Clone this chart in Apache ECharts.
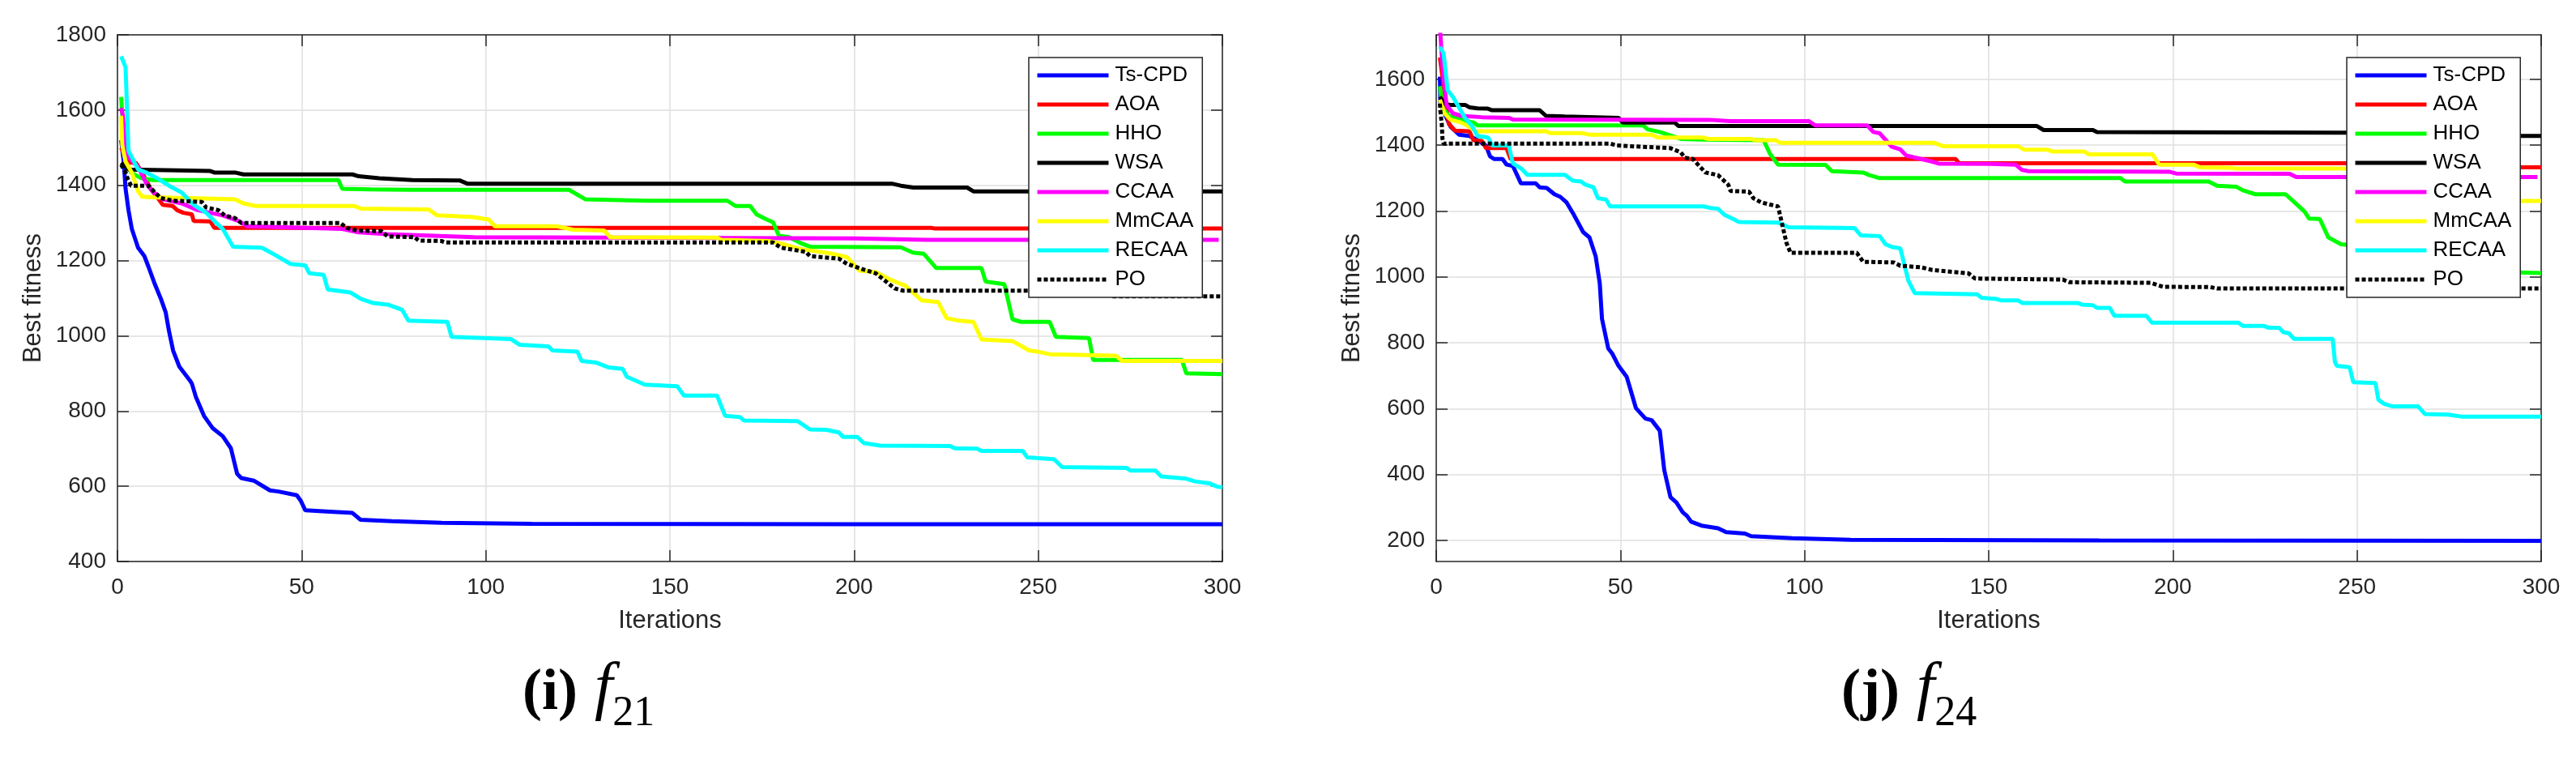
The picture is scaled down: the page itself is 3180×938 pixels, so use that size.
<!DOCTYPE html>
<html><head><meta charset="utf-8">
<script src="https://cdn.jsdelivr.net/npm/echarts@6/dist/echarts.min.js"></script>
<style>html,body{margin:0;padding:0;background:#fff}#c{width:3180px;height:938px}</style>
</head><body><div id="c"></div>
<script>
// ---------- data ----------
const seriesNames = ['Ts-CPD','AOA','HHO','WSA','CCAA','MmCAA','RECAA','PO'];
const seriesColors = ['#0000ff','#ff0000','#00ff00','#000000','#ff00ff','#ffff00','#00ffff','#000000'];
const xTicks = [0,50,100,150,200,250,300];
const yTicks21 = [400,600,800,1000,1200,1400,1600,1800];
const yTicks24 = [200,400,600,800,1000,1200,1400,1600];

// f21 : [iteration, best fitness]
const f21_TsCPD = [[1,1520],[1.7,1463],[2.2,1391],[3,1334],[3.9,1284],[5.6,1234],[7.3,1212],[8.4,1184],[10,1141],[11.8,1098],[13.1,1062],[14,1012],[15.1,961],[16.8,918],[19.6,882],[20.2,873],[21.3,837],[23.5,787],[25.8,755],[28.6,733],[30.8,701],[32.5,633],[33.6,622],[37,615],[41.4,589],[43.7,586],[48.7,576],[49.8,561],[51,536],[56.6,533],[63.8,529],[66,511],[74.5,507],[88,503],[112.5,500],[200,499],[300,499]];
const f21_AOA = [[1,1500],[3,1460],[5,1460],[6.7,1434],[9,1391],[11.2,1363],[12.3,1348],[15,1345],[16.2,1334],[17.9,1327],[20.2,1323],[20.7,1305],[25.2,1304],[26.3,1287],[221,1287],[222,1285],[300,1285]];
const f21_HHO = [[1,1635],[1.5,1556],[2.2,1463],[3.7,1434],[6.2,1420],[9.5,1414],[60,1414],[61,1391],[68.9,1389],[79,1388],[122.6,1388],[127,1363],[143.7,1359],[165.6,1359],[167.8,1345],[171.8,1345],[173.5,1323],[176.3,1309],[178,1302],[179.6,1266],[182.4,1262],[185.8,1245],[188,1237],[212.7,1235],[216,1221],[218.9,1218],[222.3,1180],[234.6,1180],[235.7,1144],[240.8,1137],[243,1044],[245.3,1037],[253.1,1037],[254.8,997],[263.8,994],[264.9,936],[289,936],[290.2,900],[300,898]];
const f21_WSA = [[1,1460],[3,1442],[16.2,1440],[25.2,1438],[26.3,1434],[31.9,1434],[34.2,1429],[63.8,1429],[65.5,1424],[71.1,1419],[80.1,1414],[92.9,1413],[95.1,1404],[210.5,1404],[212.7,1399],[216.1,1394],[230.7,1394],[232.4,1384],[300,1384]];
const f21_CCAA = [[1,1606],[1.5,1585],[2.2,1492],[3.4,1470],[5.6,1449],[7.8,1406],[9.5,1384],[12.3,1363],[17.4,1352],[21.8,1334],[28.6,1320],[33,1305],[35.3,1291],[61,1284],[65.5,1275],[73.3,1270],[96.9,1262],[133.8,1261],[200.4,1259],[219.5,1255],[299,1255]];
const f21_MmCAA = [[1,1585],[1.3,1506],[2.2,1463],[3.9,1434],[5.6,1384],[6.7,1370],[9.5,1368],[19.6,1366],[31.9,1363],[34.2,1352],[37.5,1345],[64.4,1345],[66.1,1338],[84.5,1336],[86.8,1320],[96.3,1316],[100.8,1309],[102.5,1291],[119.3,1291],[123.7,1282],[132.1,1280],[133.8,1262],[162.8,1261],[163.9,1255],[176.8,1252],[180.2,1245],[185.8,1230],[193.7,1219],[198.1,1209],[201.5,1173],[206,1169],[209.4,1151],[213.9,1133],[218.4,1094],[222.8,1090],[225.1,1047],[228.5,1040],[232.4,1037],[234.6,990],[243,986],[247.5,961],[249.8,958],[253.1,951],[271.1,947],[272.8,933],[300,933]];
const f21_RECAA = [[1,1743],[2.2,1714],[3,1492],[4.5,1463],[5.6,1442],[7.8,1434],[10.6,1420],[14,1399],[17.4,1381],[20.7,1348],[24.1,1327],[26.3,1305],[28.6,1284],[31.4,1237],[39.2,1234],[42.6,1216],[47,1191],[51,1187],[52.1,1166],[56,1162],[57.1,1123],[63.3,1115],[66.1,1098],[69.5,1087],[73.4,1083],[77.3,1069],[79,1040],[89.6,1037],[90.7,997],[106.9,991],[109.2,976],[117,972],[118.1,961],[124.9,958],[126,933],[129.9,929],[133.3,916],[137.2,912],[138.3,891],[143.2,870],[152,866],[153.8,841],[162.8,841],[165,787],[169,784],[170.1,775],[184.7,773],[188,751],[192.5,750],[195.9,743],[197,731],[200.9,731],[202.6,715],[207.1,708],[226.1,707],[227.3,701],[233.4,700],[234.6,694],[245.8,694],[247,677],[254.3,672],[256.5,651],[273.9,649],[275,642],[281.8,642],[283.4,626],[290.2,620],[292.5,613],[296.4,608],[298.6,599],[300,597]];
const f21_PO = [[1,1455],[2.2,1434],[2.8,1417],[3.7,1399],[8.4,1399],[10.6,1377],[11.8,1366],[15.1,1359],[22.9,1356],[24.1,1341],[27.4,1334],[29.1,1320],[31.9,1313],[33.6,1300],[60.5,1300],[62.2,1287],[65,1280],[71.7,1278],[73.4,1264],[80.7,1262],[81.8,1253],[87.9,1252],[89,1248],[178,1248],[180.2,1234],[186.9,1223],[188,1212],[195.9,1205],[198.1,1191],[202.6,1176],[205.9,1166],[208.2,1148],[211,1126],[213.3,1120],[268,1120],[270,1105],[300,1105]];

// f24 : [iteration, best fitness]
const f24_TsCPD = [[1,1608],[1.1,1530],[2.2,1497],[3.9,1456],[6.2,1432],[9,1428],[11.2,1415],[13.5,1399],[14.6,1366],[15.7,1358],[18,1358],[19.1,1341],[20.8,1337],[23,1284],[27,1284],[28.1,1272],[30,1270],[32.1,1251],[33.7,1243],[35.4,1226],[37.1,1194],[39.9,1136],[41.6,1120],[43.3,1062],[44.4,980],[45,873],[46.7,783],[47.8,767],[49.5,730],[51.7,697],[52.9,652],[54.2,602],[56.8,570],[58.5,565],[60.7,533],[61.9,414],[63.6,331],[65.2,315],[66.9,286],[68.1,274],[69.2,257],[72,245],[76.5,237],[78.7,225],[83.8,221],[85.5,213],[96.7,207],[112.5,202],[180,200],[300,199]];
const f24_AOA = [[1,1666],[2.2,1563],[3.4,1465],[5.1,1444],[9,1442],[10.1,1415],[12.4,1413],[13.5,1391],[19.1,1391],[20.2,1358],[141,1358],[142,1345],[265,1345],[266,1333],[300,1333]];
const f24_HHO = [[1,1579],[1.7,1514],[3.4,1489],[5,1485],[7.9,1474],[10.1,1469],[11.2,1460],[56.2,1460],[57.4,1448],[60.7,1440],[66.4,1419],[72,1417],[88.9,1415],[90.6,1374],[92.8,1341],[105.7,1340],[107.4,1321],[115.9,1317],[117.6,1309],[120.4,1300],[185.8,1300],[187,1290],[209.7,1290],[212,1277],[217.2,1274],[219,1263],[222.4,1251],[230.6,1251],[232.9,1228],[235.8,1198],[237,1177],[239.9,1176],[242.2,1120],[245.7,1099],[255,1090],[262,1060],[275,1040],[285,1025],[290,1015],[300,1012]];
const f24_WSA = [[1,1547],[2.2,1526],[3.9,1522],[7.9,1522],[9,1515],[11.2,1512],[14,1511],[15.2,1506],[28.1,1506],[29.8,1489],[34.9,1487],[49.5,1483],[50.6,1469],[64.7,1469],[65.8,1458],[163.1,1458],[164.9,1446],[178.3,1446],[179.4,1440],[244.5,1438],[260,1438],[262,1428],[300,1428]];
const f24_CCAA = [[1,1760],[1.7,1637],[2.8,1522],[4.5,1497],[6.7,1489],[12.4,1485],[19.7,1483],[20.8,1478],[74.2,1477],[79.8,1473],[101.2,1473],[102.9,1460],[117,1460],[118.7,1440],[120.4,1436],[123.7,1395],[126,1387],[127.7,1368],[129.4,1364],[131.7,1358],[134.7,1350],[136.4,1344],[150.3,1343],[157.3,1341],[159,1325],[160.8,1321],[199.2,1319],[200.9,1314],[231.7,1313],[233.5,1303],[299,1303]];
const f24_MmCAA = [[1,1538],[2.2,1497],[3.9,1477],[6.7,1469],[9,1456],[10.7,1442],[29.8,1442],[30.9,1437],[39.4,1437],[41.6,1432],[58.5,1432],[60.2,1423],[72.6,1423],[73.7,1419],[85.5,1419],[86.6,1415],[92.2,1415],[93.4,1407],[135.2,1407],[137.6,1397],[157.9,1397],[159.7,1386],[166,1386],[167.2,1381],[176,1381],[177.1,1372],[194.5,1372],[196.3,1341],[205.6,1341],[207.3,1333],[216,1331],[217.2,1329],[262,1329],[264,1300],[276,1295],[278,1250],[285,1240],[287,1231],[300,1231]];
const f24_RECAA = [[1,1699],[2,1678],[3.1,1567],[4.5,1547],[6.2,1514],[7.9,1481],[9.6,1460],[11.2,1428],[14.1,1423],[15.2,1399],[19.7,1399],[20.8,1345],[23.1,1329],[24.7,1310],[34.9,1310],[37.1,1292],[39.3,1290],[40.5,1280],[42.7,1272],[43.9,1239],[46.1,1235],[47.2,1214],[72.6,1214],[74.2,1210],[76.5,1207],[78.2,1189],[80.4,1177],[82.1,1167],[92.8,1165],[95.6,1151],[113.6,1148],[115.3,1126],[120.4,1124],[122,1099],[123.7,1091],[126,1087],[128.2,988],[129.9,951],[146.9,947],[148,937],[152.1,933],[153.3,929],[157.9,929],[159.1,921],[174.2,921],[175.3,916],[178.3,914],[179.4,906],[182.9,906],[184.1,882],[192.8,882],[194.3,861],[217.8,861],[219,851],[224.8,851],[225.9,846],[228.8,846],[230,832],[231.5,829],[232.9,812],[243.4,812],[244,742],[244.5,730],[248,726],[249,680],[255,678],[255.8,627],[257.3,615],[259.7,607],[266.6,607],[268.4,584],[274.8,582],[278.3,576],[300,576]];
const f24_PO = [[1,1526],[1.1,1506],[1.5,1465],[1.7,1419],[2,1405],[47.2,1405],[49,1399],[63.6,1391],[66.4,1378],[67.5,1362],[69.7,1358],[71.4,1337],[73.1,1317],[76.5,1309],[79.3,1280],[79.9,1261],[84.9,1259],[86.1,1239],[88.3,1226],[92.8,1214],[93.9,1161],[95.1,1103],[96.2,1073],[114.2,1073],[115.9,1046],[124.3,1044],[126,1034],[131.7,1029],[134.7,1021],[144.5,1011],[146.3,995],[170.1,992],[171.9,984],[194,982],[197.4,970],[210.2,969],[212,965],[300,965]];

const panel21 = [f21_TsCPD,f21_AOA,f21_HHO,f21_WSA,f21_CCAA,f21_MmCAA,f21_RECAA,f21_PO];
const panel24 = [f24_TsCPD,f24_AOA,f24_HHO,f24_WSA,f24_CCAA,f24_MmCAA,f24_RECAA,f24_PO];

// ---------- styling ----------
const FONT = 'Liberation Sans';
const AX = '#262626';
const GRIDC = '#dfdfdf';
const PO_DASH = [5, 3];
const plain = v => String(v);

function xAxisDef(gi, pos) {
  const bottom = pos === 'bottom';
  return {
    gridIndex: gi, type: 'value', position: pos, min: 0, max: 300, interval: 50,
    axisLine: {show: true, onZero: false, lineStyle: {color: AX, width: 1.5}},
    axisTick: {show: true, inside: true, length: 14, lineStyle: {color: AX, width: 1.5}},
    axisLabel: {show: bottom, margin: 18, fontSize: 28, color: AX, fontFamily: FONT,
      customValues: xTicks, formatter: plain},
    splitLine: {show: bottom, lineStyle: {color: GRIDC, width: 1.5}},
    name: bottom ? 'Iterations' : '', nameLocation: 'middle', nameGap: 58,
    nameTextStyle: {fontSize: 31, color: AX, fontFamily: FONT}
  };
}
function yAxisDef(gi, pos, lo, hi, ticks) {
  const left = pos === 'left';
  return {
    gridIndex: gi, type: 'value', position: pos, min: lo, max: hi,
    axisLine: {show: true, onZero: false, lineStyle: {color: AX, width: 1.5}},
    axisTick: {show: true, inside: true, length: 14, lineStyle: {color: AX, width: 1.5}, customValues: ticks},
    axisLabel: {show: left, margin: 14, fontSize: 28, color: AX, fontFamily: FONT, customValues: ticks, formatter: plain},
    splitLine: {show: left, lineStyle: {color: GRIDC, width: 1.5}},
    name: left ? 'Best fitness' : '', nameLocation: 'middle', nameGap: 88,
    nameTextStyle: {fontSize: 31, color: AX, fontFamily: FONT}
  };
}

function buildSeries(panel, xi, yi) {
  return panel.map((arr, i) => ({
    name: seriesNames[i], type: 'line', xAxisIndex: xi, yAxisIndex: yi,
    data: arr, symbol: 'none', showSymbol: false, clip: true,
    lineStyle: {color: seriesColors[i], width: 5, type: i === 7 ? PO_DASH : 'solid', cap: 'butt'},
    itemStyle: {color: seriesColors[i]},
    emphasis: {disabled: true}, z: 2 + i
  }));
}

function legendDef(left) {
  return {
    left: left, top: 71, orient: 'vertical', z: 50, zlevel: 0,
    data: seriesNames.map((n, i) => ({
      name: n,
      lineStyle: {color: seriesColors[i], width: 5, type: i === 7 ? PO_DASH : 'solid', cap: 'butt'},
      itemStyle: {opacity: 0}
    })),
    backgroundColor: '#fff', borderColor: AX, borderWidth: 1.5, borderRadius: 0,
    padding: [9, 11, 9, 8], itemWidth: 88, itemHeight: 14, itemGap: 10,
    itemStyle: {opacity: 0}, selectedMode: false,
    textStyle: {fontSize: 26, color: '#000', fontFamily: FONT, padding: [0, 0, 0, 3]}
  };
}

const rich = {
  a: {fontFamily: 'Liberation Serif', fontWeight: 'bold', fontSize: 72, color: '#000', verticalAlign: 'bottom', padding: [0, 0, 15, 0]},
  sp: {fontFamily: 'Liberation Serif', fontWeight: 'normal', fontSize: 84, verticalAlign: 'bottom'},
  f: {fontFamily: 'Liberation Serif', fontWeight: 'normal', fontStyle: 'italic', fontSize: 80, color: '#000', verticalAlign: 'bottom', padding: [0, 0, 15, 0]},
  s: {fontFamily: 'Liberation Serif', fontWeight: 'normal', fontSize: 52, color: '#000', verticalAlign: 'bottom'}
};

const chart = echarts.init(document.getElementById('c'), null, {renderer: 'canvas'});
chart.setOption({
  animation: false,
  backgroundColor: '#fff',
  grid: [
    {left: 145, top: 43, width: 1364, height: 650, containLabel: false},
    {left: 1773, top: 43, width: 1364, height: 650, containLabel: false}
  ],
  xAxis: [xAxisDef(0, 'bottom'), xAxisDef(0, 'top'), xAxisDef(1, 'bottom'), xAxisDef(1, 'top')],
  yAxis: [
    yAxisDef(0, 'left', 400, 1800, yTicks21), yAxisDef(0, 'right', 400, 1800, yTicks21),
    yAxisDef(1, 'left', 136, 1735, yTicks24), yAxisDef(1, 'right', 136, 1735, yTicks24)
  ],
  legend: [legendDef(1270), legendDef(2897)],
  title: [
    {text: '{a|(i)}{sp| }{f|f}{s|21}', left: 645, top: 812, padding: 0, textStyle: {fontWeight: 'normal', rich: rich}},
    {text: '{a|(j)}{sp| }{f|f}{s|24}', left: 2273, top: 812, padding: 0, textStyle: {fontWeight: 'normal', rich: rich}}
  ],
  series: [].concat(buildSeries(panel21, 0, 0), buildSeries(panel24, 2, 2))
});
</script>
</body></html>
